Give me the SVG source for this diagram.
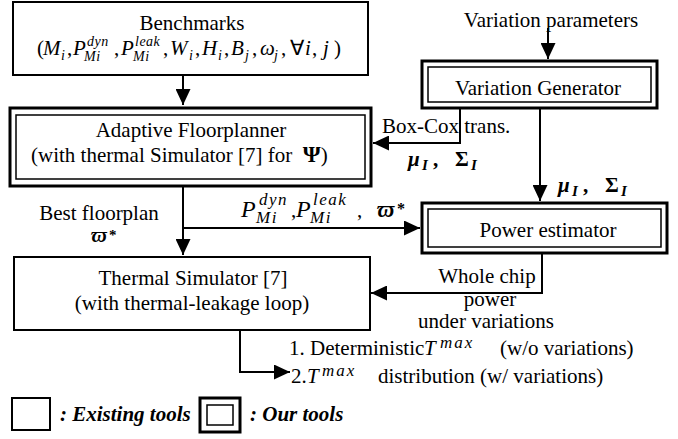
<svg xmlns="http://www.w3.org/2000/svg" width="678" height="439" viewBox="0 0 678 439">
  <style>
    .t { font-family: "Liberation Serif", "Times New Roman", serif; font-size: 21px; fill: #000; }
    .c { text-anchor: middle; }
    .i { font-style: italic; }
    .sb { font-size: 14px; font-style: italic; letter-spacing: 0.5px; }
    .sc { font-size: 15px; font-style: italic; letter-spacing: 0.5px; }
    .pl { font-size: 24px; font-style: italic; }
    .ps { font-size: 17px; font-style: italic; letter-spacing: 1.5px; }
    .sx { font-size: 17px; font-style: italic; letter-spacing: 2px; }
    .bm { font-weight: bold; font-style: italic; }
    .bu { font-weight: bold; }
    .box { fill: #fff; stroke: #000; stroke-width: 2; }
    .outer { fill: #fff; stroke: #000; stroke-width: 3; }
    .inner { fill: none; stroke: #000; stroke-width: 1.5; }
    .wire { fill: none; stroke: #000; stroke-width: 2; marker-end: url(#arrow); }
    .leg { font-weight: bold; font-style: italic; }
  </style>
  <defs>
    <marker id="arrow" markerUnits="userSpaceOnUse" markerWidth="16" markerHeight="15" refX="16" refY="7.5" orient="auto">
      <path d="M0,0 L16,7.5 L0,15 Z" fill="#000"/>
    </marker>
  </defs>
  <rect width="678" height="439" fill="#fff"/>

  <!-- Benchmarks -->
  <g id="benchmarks">
    <rect class="box" x="13" y="2" width="355" height="73"/>
    <text class="t c" x="192" y="30">Benchmarks</text>
    <g class="t">
      <text x="37" y="55">(</text>
      <text class="i" x="43" y="55">M</text><text class="sb" x="61" y="60">i</text><text x="67" y="55">,</text>
      <text class="i" x="73" y="55">P</text><text class="sb" x="87" y="46">dyn</text><text class="sb" x="84" y="61">Mi</text><text x="114" y="55">,</text>
      <text class="i" x="121" y="55">P</text><text class="sb" x="135" y="46">leak</text><text class="sb" x="133" y="61">Mi</text><text x="163" y="55">,</text>
      <text class="i" x="170" y="55">W</text><text class="sb" x="189" y="60">i</text><text x="195" y="55">,</text>
      <text class="i" x="202" y="55">H</text><text class="sb" x="218" y="60">i</text><text x="224" y="55">,</text>
      <text class="i" x="231" y="55">B</text><text class="sb" x="245" y="60">j</text><text x="252" y="55">,</text>
      <text class="i" x="260" y="55">ω</text><text class="sb" x="274" y="60">j</text><text x="281" y="55">,</text>
      <text x="290" y="55">∀</text><text class="i" x="305" y="55">i</text><text x="312" y="55">,</text>
      <text class="i" x="323" y="55">j</text><text x="334" y="55">)</text>
    </g>
  </g>

  <!-- Adaptive Floorplanner -->
  <g id="floorplanner">
    <rect class="outer" x="10" y="108" width="361" height="78"/>
    <rect class="inner" x="16" y="115" width="349" height="64"/>
    <text class="t c" x="191" y="137">Adaptive Floorplanner</text>
    <text class="t" x="31" y="162">(with thermal Simulator [7] for&#160;&#160;<tspan class="bu" font-size="23">Ψ</tspan>)</text>
  </g>

  <!-- Variation Generator -->
  <g id="variation-generator">
    <rect class="outer" x="422" y="61" width="235" height="47"/>
    <rect class="inner" x="428" y="67" width="223" height="35"/>
    <text class="t c" x="538" y="95">Variation Generator</text>
  </g>

  <!-- Power estimator -->
  <g id="power-estimator">
    <rect class="outer" x="422" y="203" width="245" height="50"/>
    <rect class="inner" x="428" y="209" width="233" height="38"/>
    <text class="t c" x="548" y="237">Power estimator</text>
  </g>

  <!-- Thermal Simulator -->
  <g id="thermal-simulator">
    <rect class="box" x="14" y="257" width="356" height="73"/>
    <text class="t c" x="193" y="285">Thermal Simulator [7]</text>
    <text class="t c" x="192" y="310">(with thermal-leakage loop)</text>
  </g>

  <!-- Connectors -->
  <g id="connectors">
    <path class="wire" d="M183,75 V105"/>
    <path class="wire" d="M548,28 V59"/>
    <path class="wire" d="M460,108 V143 H373"/>
    <path class="wire" d="M540,108 V201"/>
    <path class="wire" d="M183,186 V255"/>
    <path class="wire" d="M183,228 H420"/>
    <path class="wire" d="M542,253 V293 H371"/>
    <path class="wire" d="M240,330 V372 H290"/>
  </g>

  <!-- Connector labels -->
  <g id="labels" class="t">
    <text class="c" x="551" y="27">Variation parameters</text>
    <text x="382" y="133">Box-Cox trans.</text>
    <text class="bm" x="408" y="166">μ</text><text class="sc bm" x="422" y="170">I</text><text class="bu" x="433" y="166">,</text>
    <text class="bu" x="455" y="166">Σ</text><text class="sc bm" x="471" y="170">I</text>
    <text class="bm" x="558" y="192">μ</text><text class="sc bm" x="572" y="196">I</text><text class="bu" x="583" y="192">,</text>
    <text class="bu" x="605" y="192">Σ</text><text class="sc bm" x="621" y="196">I</text>

    <text class="c" x="99" y="220">Best floorplan</text>
    <text class="bm" x="91" y="242">ϖ</text><text class="bu" x="109" y="240" font-size="15">*</text>

    <text class="pl" x="241" y="217">P</text><text class="ps" x="259" y="205">dyn</text><text class="ps" x="256" y="223">Mi</text><text x="291" y="217">,</text>
    <text class="pl" x="296" y="217">P</text><text class="ps" x="313" y="205">leak</text><text class="ps" x="310" y="223">Mi</text><text x="357" y="217">,</text>
    <text class="bm" x="377" y="217" font-size="23">ϖ</text><text class="bu" x="397" y="214" font-size="16">*</text>

    <text class="c" x="487" y="283">Whole chip</text>
    <text class="c" x="490" y="306">power</text>
    <text class="c" x="486" y="328">under variations</text>

    <text x="289" y="355">1. Deterministic</text><text class="i" x="424" y="355">T</text><text class="sx" x="440" y="348">max</text>
    <text x="500" y="355">(w/o variations)</text>
    <text x="291" y="383">2.</text><text class="i" x="307" y="383">T</text><text class="sx" x="322" y="376">max</text>
    <text x="378" y="383">distribution (w/ variations)</text>
  </g>

  <!-- Legend -->
  <g id="legend">
    <rect class="box" x="12" y="398" width="38" height="32"/>
    <text class="t leg" x="60" y="421">: Existing tools</text>
    <rect class="outer" x="200" y="398" width="40" height="34"/>
    <rect class="inner" x="207" y="405" width="26" height="20"/>
    <text class="t leg" x="250" y="421">: Our tools</text>
  </g>
</svg>
